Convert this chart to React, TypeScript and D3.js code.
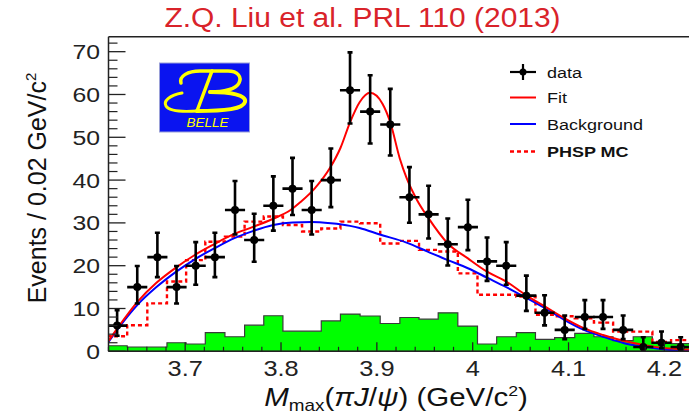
import React from "react";
import * as d3 from "d3";

const W = 689;
const H = 416;

// data bin centres (GeV)
const binCenters = [3.629, 3.650, 3.671, 3.691, 3.711, 3.731, 3.752, 3.772, 3.792, 3.812, 3.832, 3.852, 3.872, 3.893, 3.914, 3.934, 3.954, 3.974, 3.995, 4.015, 4.035, 4.056, 4.075, 4.096, 4.117, 4.136, 4.157, 4.178, 4.197, 4.217, 4.237];
// observed events per bin
const counts = [6, 15, 22, 15, 20, 22, 33, 26, 34, 38, 33, 40, 61, 56, 53, 36, 32, 25, 29, 21, 20, 13, 9, 5, 8, 8, 5, 1, 2, 1];
const errLow = [2.38, 3.83, 4.66, 3.83, 4.44, 4.66, 5.72, 5.07, 5.81, 6.15, 5.72, 6.32, 7.79, 7.46, 7.26, 5.98, 5.63, 4.97, 5.36, 4.55, 4.44, 3.56, 2.94, 2.16, 2.77, 2.77, 2.16, 0.83, 1.29, 0.83];
const errHigh = [3.58, 4.94, 5.71, 4.94, 5.50, 5.71, 6.77, 6.12, 6.86, 7.20, 6.77, 7.37, 8.84, 8.51, 8.31, 7.03, 6.68, 6.02, 6.41, 5.60, 5.50, 4.67, 4.11, 3.38, 3.95, 3.95, 3.38, 2.30, 2.64, 2.30];
// green histogram
const greenHist = [1.3, 1.0, 1.0, 2.0, 1.7, 4.35, 3.4, 6.1, 8.3, 4.7, 4.7, 7.1, 8.7, 8.25, 6.5, 7.9, 7.5, 9.0, 5.9, 1.7, 3.4, 4.35, 2.8, 3.2, 4.2, 3.4, 2.5, 3.4, 1.9, 1.8, 1.8];
// PHSP MC (dashed histogram)
const phspHist = [3.5, 6.1, 11.2, 16.3, 21.3, 25.6, 26.8, 30.3, 31.5, 29.5, 28.0, 28.7, 30.3, 29.9, 25.2, 25.8, 23.7, 23.3, 18.2, 13.2, 13.2, 12.8, 8.5, 8.2, 7.7, 6.7, 4.6, 4.6, 2.2, 2.6, 2.0];
// fit curve
const fitMass = [3.62, 3.63, 3.65, 3.67, 3.69, 3.71, 3.73, 3.75, 3.77, 3.79, 3.81, 3.82, 3.835, 3.851, 3.862, 3.872, 3.882, 3.893, 3.906, 3.914, 3.924, 3.931, 3.942, 3.953, 3.974, 3.995, 4.015, 4.035, 4.055, 4.076, 4.096, 4.116, 4.136, 4.158, 4.178, 4.198, 4.218, 4.24];
const fitVal = [2.4, 5.6, 11.5, 16.0, 19.5, 22.5, 25.0, 27.3, 29.0, 30.8, 33.0, 34.8, 38.0, 42.8, 47.5, 53.5, 58.2, 60.4, 57.8, 53.5, 45.0, 40.5, 35.3, 31.4, 25.2, 21.7, 18.6, 16.3, 13.2, 10.4, 7.7, 5.4, 3.8, 2.4, 1.5, 0.8, 0.5, 0.3];
// background curve
const bkgMass = [3.62, 3.63, 3.65, 3.67, 3.69, 3.71, 3.73, 3.752, 3.772, 3.792, 3.812, 3.832, 3.852, 3.872, 3.882, 3.903, 3.931, 3.953, 3.974, 3.995, 4.015, 4.035, 4.055, 4.076, 4.096, 4.116, 4.136, 4.158, 4.178, 4.198, 4.218, 4.24];
const bkgVal = [2.2, 5.3, 10.8, 15.0, 18.5, 21.5, 24.0, 26.5, 28.2, 29.5, 30.1, 30.2, 29.9, 29.3, 28.8, 27.3, 25.4, 23.3, 21.3, 19.4, 17.2, 15.0, 12.6, 10.0, 7.3, 5.0, 3.4, 1.9, 1.1, 0.5, 0.15, 0.05];

const xMajorTicks = [3.7, 3.8, 3.9, 4.0, 4.1, 4.2];
const xTickLabels = ["3.7", "3.8", "3.9", "4", "4.1", "4.2"];
const yMajorTicks = [0, 10, 20, 30, 40, 50, 60, 70];
const legendLabels = ["data", "Fit", "Background", "PHSP MC"];
const titleText = "Z.Q. Liu et al. PRL 110 (2013)";

const FONT = "'Liberation Sans', Arial, Helvetica, sans-serif";

function SText(props: any) {
  const { x, y, sx = 1.18, children, ...rest } = props;
  return (
    <text transform={`translate(${x},${y}) scale(${sx},1)`} fontFamily={FONT} {...rest}>
      {children}
    </text>
  );
}

export default function App() {
  const x = d3.scaleLinear().domain([3.62, 4.24]).range([108.5, 108.5 + 0.62 * 958.4]);
  const y = d3.scaleLinear().domain([0, 73.5]).range([351.3, 36.7]);

  // bin edges from centres
  const edges: number[] = [];
  edges.push(binCenters[0] - (binCenters[1] - binCenters[0]) / 2);
  for (let i = 1; i < binCenters.length; i++) edges.push((binCenters[i - 1] + binCenters[i]) / 2);
  const n = binCenters.length;
  edges.push(binCenters[n - 1] + (binCenters[n - 1] - binCenters[n - 2]) / 2);

  const stepPath = (vals: number[], closed: boolean) => {
    let p = closed ? `M${x(edges[0])},${y(0)}V${y(vals[0])}` : `M${x(edges[0])},${y(vals[0])}`;
    for (let i = 0; i < vals.length; i++) {
      if (i > 0) p += `V${y(vals[i])}`;
      p += `H${x(edges[i + 1])}`;
    }
    if (closed) p += `V${y(0)}Z`;
    return p;
  };

  const line = d3
    .line<[number, number]>()
    .x((d) => x(d[0]))
    .y((d) => y(d[1]))
    .curve(d3.curveMonotoneX);
  const fitPath = line(fitMass.map((m, i) => [m, fitVal[i]]) as [number, number][]) || "";
  const bkgPath = line(bkgMass.map((m, i) => [m, bkgVal[i]]) as [number, number][]) || "";

  const x0 = x(3.62);
  const yBase = y(0);
  const yTop = y(73.5);
  const xRight = x(4.24);

  const yMinor = d3.range(0, 74, 2).filter((v) => v % 10 !== 0);
  const xMinor = d3.range(0, 32).map((k) => 3.62 + 0.02 * k).filter((v) => Math.abs(v * 10 - Math.round(v * 10)) > 1e-6);

  const halfW = 0.0105;

  const legX1 = 510;
  const legX2 = 536;
  const legY = [72, 97.5, 124, 151.5];

  return (
    <svg width={W} height={H} style={{ position: "absolute", left: 0, top: 0, background: "#fff" }}>
      <rect x={0} y={0} width={W} height={H} fill="#fff" />
      <defs>
        <clipPath id="plotclip">
          <rect x={x0} y={yTop} width={xRight - x0} height={yBase - yTop} />
        </clipPath>
      </defs>

      {/* title */}
      <SText x={362.5} y={27} sx={1.07} textAnchor="middle" fontSize={28} fill="#d9232a">
        {titleText}
      </SText>

      <g clipPath="url(#plotclip)">
        {/* green histogram */}
        <path d={stepPath(greenHist, true)} fill="#00ff00" stroke="#3a3a3a" strokeWidth={1.2} />
        {/* PHSP dashed */}
        <path d={stepPath(phspHist, false)} fill="none" stroke="#ff0000" strokeWidth={2.4} strokeDasharray="4,3" />
        {/* curves */}
        <path d={bkgPath} fill="none" stroke="#0000ff" strokeWidth={2} />
        <path d={fitPath} fill="none" stroke="#ff0000" strokeWidth={2} />
        {/* data */}
        {counts.map((c, i) => {
          const cx = x(binCenters[i]);
          const cy = y(c);
          const yl = y(c - errLow[i]);
          const yh = y(c + errHigh[i]);
          return (
            <g key={i} stroke="#000" strokeWidth={2.6}>
              <line x1={cx} x2={cx} y1={yl} y2={yh} />
              <line x1={cx - 2.5} x2={cx + 2.5} y1={yl} y2={yl} />
              <line x1={cx - 2.5} x2={cx + 2.5} y1={yh} y2={yh} />
              <line x1={x(binCenters[i] - halfW)} x2={x(binCenters[i] + halfW)} y1={cy} y2={cy} />
              <circle cx={cx} cy={cy} r={4} fill="#000" stroke="none" />
            </g>
          );
        })}
      </g>

      {/* frame */}
      <line x1={x0} x2={W + 20} y1={yTop} y2={yTop} stroke="#222" strokeWidth={1.5} />
      <line x1={x0} x2={x0} y1={yTop} y2={yBase} stroke="#222" strokeWidth={1.5} />
      <line x1={x0} x2={W + 20} y1={yBase} y2={yBase} stroke="#222" strokeWidth={1.5} />

      {/* y ticks */}
      {yMajorTicks.map((v) => (
        <g key={"ym" + v}>
          <line x1={x0} x2={x0 + 17} y1={y(v)} y2={y(v)} stroke="#222" strokeWidth={1.3} />
          <SText x={100} y={y(v) + 7.5} textAnchor="end" fontSize={21} fill="#222">
            {String(v)}
          </SText>
        </g>
      ))}
      {yMinor.map((v) => (
        <line key={"yn" + v} x1={x0} x2={x0 + 9} y1={y(v)} y2={y(v)} stroke="#222" strokeWidth={1.2} />
      ))}

      {/* x ticks */}
      {xMajorTicks.map((v, i) => (
        <g key={"xm" + v}>
          <line x1={x(v)} x2={x(v)} y1={yBase} y2={yBase - 9} stroke="#222" strokeWidth={1.3} />
          <SText x={x(v)} y={376} textAnchor="middle" fontSize={21.5} fill="#222">
            {xTickLabels[i]}
          </SText>
        </g>
      ))}
      {xMinor.map((v, i) => (
        <line key={"xn" + i} x1={x(v)} x2={x(v)} y1={yBase} y2={yBase - 4.5} stroke="#222" strokeWidth={1.2} />
      ))}

      {/* x axis title */}
      <SText x={396} y={406} textAnchor="middle" fontSize={25} fill="#111">
        <tspan fontStyle="italic">M</tspan>
        <tspan fontSize={16} dy={5}>max</tspan>
        <tspan dy={-5}>(</tspan>
        <tspan fontStyle="italic">πJ</tspan>
        <tspan>/</tspan>
        <tspan fontStyle="italic">ψ</tspan>
        <tspan>) (GeV/c</tspan>
        <tspan fontSize={15} dy={-10}>2</tspan>
        <tspan dy={10}>)</tspan>
      </SText>

      {/* y axis title */}
      <text transform="translate(46,188) rotate(-90)" textAnchor="middle" fontFamily={FONT} fontSize={25} fill="#111">
        <tspan>Events / 0.02 GeV/c</tspan>
        <tspan fontSize={15} dy={-10}>2</tspan>
      </text>

      {/* Belle logo */}
      <g>
        <rect x={159.5} y={63} width={90} height={69} fill="#0a14f0" stroke="#9aa0d8" strokeWidth={1} />
        <g fill="none" stroke="#ffff00" strokeLinecap="round">
          <path d="M181,83 C179,76 188,71 200,71 L228,71 C238,71 242,77 239,83 C236,89 224,92 210,92" strokeWidth={3.5} />
          <path d="M210,92 C230,92 247,95 245,102 C243,109 226,111 197,111" strokeWidth={4} />
          <path d="M212,71 L197,111" strokeWidth={3.5} />
          <path d="M182,93 C170,95 163,101 166,106 C169,111 182,112 197,111" strokeWidth={3} />
        </g>
        <text x={207.5} y={127} textAnchor="middle" fontFamily={FONT} fontStyle="italic" fontSize={13.5} fill="#ffff00">
          BELLE
        </text>
      </g>

      {/* legend */}
      {legendLabels.map((lab, i) => {
        const ly = legY[i];
        let sym: any = null;
        if (i === 0) {
          sym = (
            <g stroke="#000" strokeWidth={2.2}>
              <line x1={legX1} x2={legX2} y1={ly} y2={ly} />
              <line x1={(legX1 + legX2) / 2} x2={(legX1 + legX2) / 2} y1={ly - 8} y2={ly + 8} />
              <circle cx={(legX1 + legX2) / 2} cy={ly} r={3.5} fill="#000" stroke="none" />
            </g>
          );
        } else if (i === 1) {
          sym = <line x1={legX1} x2={legX2} y1={ly} y2={ly} stroke="#ff0000" strokeWidth={2} />;
        } else if (i === 2) {
          sym = <line x1={legX1} x2={legX2} y1={ly} y2={ly} stroke="#0000ff" strokeWidth={2} />;
        } else {
          sym = <line x1={legX1} x2={legX2} y1={ly} y2={ly} stroke="#ff0000" strokeWidth={2.4} strokeDasharray="4,3" />;
        }
        return (
          <g key={lab}>
            {sym}
            <SText x={547} y={ly + 5.5} sx={1.2} fontSize={15} fill="#111" fontWeight={i === 3 ? "bold" : "normal"}>
              {lab}
            </SText>
          </g>
        );
      })}
    </svg>
  );
}
